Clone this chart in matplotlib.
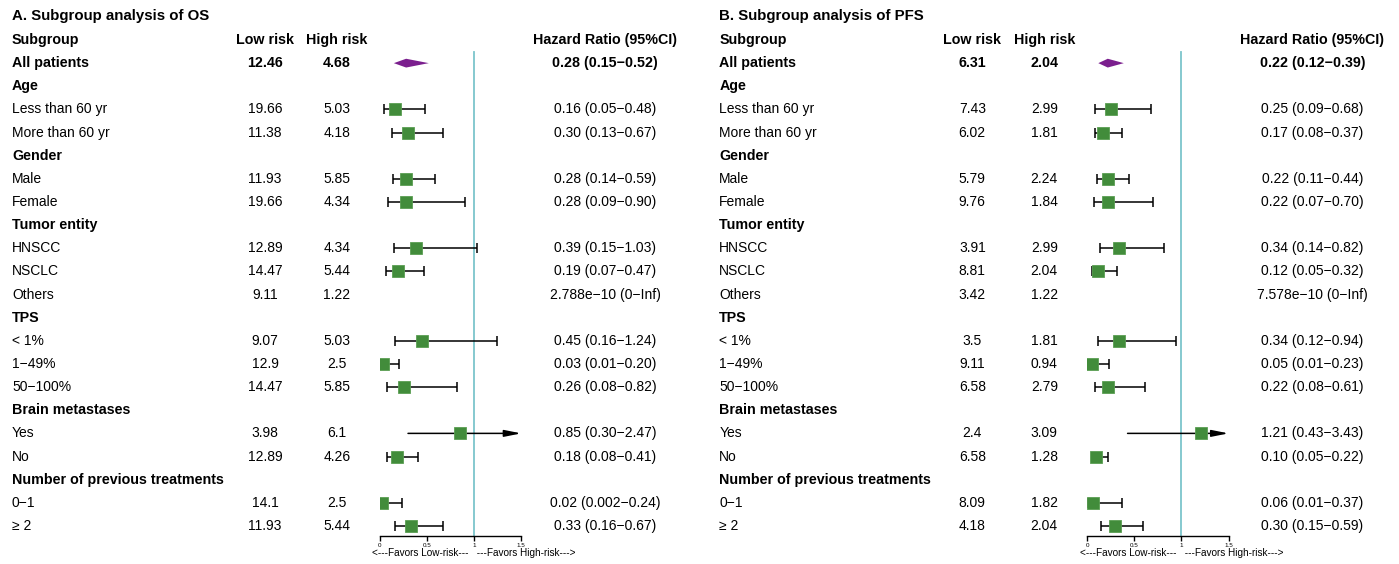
import numpy as np
import matplotlib
matplotlib.use('Agg')
import matplotlib.pyplot as plt
import matplotlib.transforms as mtrans

plt.rcParams['font.family'] = ['Liberation Sans', 'DejaVu Sans']

subgroups = ['All patients', 'Age', 'Less than 60 yr', 'More than 60 yr',
             'Gender', 'Male', 'Female', 'Tumor entity', 'HNSCC', 'NSCLC',
             'Others', 'TPS', '< 1%', '1\u221249%', '50\u2212100%',
             'Brain metastases', 'Yes', 'No',
             'Number of previous treatments', '0\u22121', '\u2265 2']
is_heading = [True, True, False, False, True, False, False, True, False, False,
              False, True, False, False, False, True, False, False, True,
              False, False]

# OS
os_low = ['12.46', '', '19.66', '11.38', '', '11.93', '19.66', '', '12.89',
          '14.47', '9.11', '', '9.07', '12.9', '14.47', '', '3.98', '12.89',
          '', '14.1', '11.93']
os_high = ['4.68', '', '5.03', '4.18', '', '5.85', '4.34', '', '4.34', '5.44',
           '1.22', '', '5.03', '2.5', '5.85', '', '6.1', '4.26', '', '2.5',
           '5.44']
os_hr = [0.28, None, 0.16, 0.30, None, 0.28, 0.28, None, 0.39, 0.19, None,
         None, 0.45, 0.03, 0.26, None, 0.85, 0.18, None, 0.02, 0.33]
os_lo = [0.15, None, 0.05, 0.13, None, 0.14, 0.09, None, 0.15, 0.07, None,
         None, 0.16, 0.01, 0.08, None, 0.30, 0.08, None, 0.002, 0.16]
os_hi = [0.52, None, 0.48, 0.67, None, 0.59, 0.90, None, 1.03, 0.47, None,
         None, 1.24, 0.20, 0.82, None, 2.47, 0.41, None, 0.24, 0.67]
os_text = ['0.28 (0.15\u22120.52)', '', '0.16 (0.05\u22120.48)',
           '0.30 (0.13\u22120.67)', '', '0.28 (0.14\u22120.59)',
           '0.28 (0.09\u22120.90)', '', '0.39 (0.15\u22121.03)',
           '0.19 (0.07\u22120.47)', '2.788e\u221210 (0\u2212Inf)', '',
           '0.45 (0.16\u22121.24)', '0.03 (0.01\u22120.20)',
           '0.26 (0.08\u22120.82)', '', '0.85 (0.30\u22122.47)',
           '0.18 (0.08\u22120.41)', '', '0.02 (0.002\u22120.24)',
           '0.33 (0.16\u22120.67)']

# PFS
pfs_low = ['6.31', '', '7.43', '6.02', '', '5.79', '9.76', '', '3.91', '8.81',
           '3.42', '', '3.5', '9.11', '6.58', '', '2.4', '6.58', '', '8.09',
           '4.18']
pfs_high = ['2.04', '', '2.99', '1.81', '', '2.24', '1.84', '', '2.99', '2.04',
            '1.22', '', '1.81', '0.94', '2.79', '', '3.09', '1.28', '', '1.82',
            '2.04']
pfs_hr = [0.22, None, 0.25, 0.17, None, 0.22, 0.22, None, 0.34, 0.12, None,
          None, 0.34, 0.05, 0.22, None, 1.21, 0.10, None, 0.06, 0.30]
pfs_lo = [0.12, None, 0.09, 0.08, None, 0.11, 0.07, None, 0.14, 0.05, None,
          None, 0.12, 0.01, 0.08, None, 0.43, 0.05, None, 0.01, 0.15]
pfs_hi = [0.39, None, 0.68, 0.37, None, 0.44, 0.70, None, 0.82, 0.32, None,
          None, 0.94, 0.23, 0.61, None, 3.43, 0.22, None, 0.37, 0.59]
pfs_text = ['0.22 (0.12\u22120.39)', '', '0.25 (0.09\u22120.68)',
            '0.17 (0.08\u22120.37)', '', '0.22 (0.11\u22120.44)',
            '0.22 (0.07\u22120.70)', '', '0.34 (0.14\u22120.82)',
            '0.12 (0.05\u22120.32)', '7.578e\u221210 (0\u2212Inf)', '',
            '0.34 (0.12\u22120.94)', '0.05 (0.01\u22120.23)',
            '0.22 (0.08\u22120.61)', '', '1.21 (0.43\u22123.43)',
            '0.10 (0.05\u22120.22)', '', '0.06 (0.01\u22120.37)',
            '0.30 (0.15\u22120.59)']

W, H = 1399, 564
GREEN = '#428c3b'
PURPLE = '#7b1f8e'
TEAL = '#7cc5cb'
XMAX = 1.5


def draw_panel(fig, x0, title, low, high, hr, lo, hi, text):
    # forest area: x=0 at x0 px, x=1.5 at x0+141.5 px
    row_h = 23.14
    top = 40.0
    ax = fig.add_axes([x0 / W, 0, 141.5 / W, 1])
    ax.set_xlim(0, XMAX)
    ax.set_ylim((H - top) / row_h, -top / row_h)
    ax.patch.set_visible(False)
    for s in ['top', 'left', 'right']:
        ax.spines[s].set_visible(False)
    ax.spines['bottom'].set_position(('data', 21.45))
    ax.spines['bottom'].set_bounds(0, XMAX)
    ax.spines['bottom'].set_linewidth(1.0)
    ax.set_yticks([])
    ax.set_xticks([0, 0.5, 1, 1.5])
    ax.set_xticklabels(['0', '0.5', '1', '1.5'])
    ax.tick_params(axis='x', direction='out', length=3.5, width=1.0, pad=1.5,
                   labelsize=4.5)

    ax.plot([1, 1], [0.5, 21.45], color=TEAL, lw=1.3, zorder=1)

    tr = mtrans.blended_transform_factory(fig.transFigure, ax.transData)
    dx = x0 - 379.7
    col_sub = (12 + dx) / W
    col_low = (265 + dx) / W
    col_high = (337 + dx) / W
    col_hr = (605 + dx) / W

    ax.text(col_sub, -1.05, title, transform=tr, ha='left', va='center',
            fontsize=10.8, fontweight='bold')
    for xc, lab, ha in [(col_sub, 'Subgroup', 'left'), (col_low, 'Low risk', 'center'),
                        (col_high, 'High risk', 'center'),
                        (col_hr, 'Hazard Ratio (95%CI)', 'center')]:
        ax.text(xc, 0, lab, transform=tr, ha=ha, va='center', fontsize=10.3,
                fontweight='bold')

    for i, name in enumerate(subgroups):
        y = i + 1
        bold = (i == 0)
        fw = 'bold' if is_heading[i] else 'normal'
        fs = 10.3 if is_heading[i] else 10
        ax.text(col_sub, y, name, transform=tr, ha='left', va='center',
                fontsize=fs, fontweight=fw)
        vfw = 'bold' if bold else 'normal'
        vfs = 10.3 if bold else 10
        ax.text(col_low, y, low[i], transform=tr, ha='center', va='center',
                fontsize=vfs, fontweight=vfw)
        ax.text(col_high, y, high[i], transform=tr, ha='center', va='center',
                fontsize=vfs, fontweight=vfw)
        ax.text(col_hr, y, text[i], transform=tr, ha='center', va='center',
                fontsize=vfs, fontweight=vfw)

        if hr[i] is None:
            continue
        if i == 0:
            ax.fill([lo[i], hr[i], hi[i], hr[i]], [y, y - 0.19, y, y + 0.19],
                    color=PURPLE, lw=0, zorder=3)
            continue
        if hi[i] > XMAX:
            ax.annotate('', xy=(XMAX, y), xytext=(lo[i], y),
                        arrowprops=dict(arrowstyle='-|>,head_length=1.0,head_width=0.2',
                                        color='black', lw=1.1, shrinkA=0, shrinkB=0),
                        zorder=2)
        else:
            ax.errorbar([hr[i]], [y], xerr=[[hr[i] - lo[i]], [hi[i] - hr[i]]],
                        fmt='none', ecolor='black', elinewidth=1.1, capsize=3.3,
                        capthick=1.1, zorder=2)
        ax.plot([hr[i]], [y], marker='s', ms=8.3, color=GREEN,
                mec='#5a9e52', mew=0.6, zorder=4)

    ax.text(1, 22.15, '<---Favors Low-risk---   ---Favors High-risk--->',
            ha='center', va='center', fontsize=7.2)


fig = plt.figure(figsize=(W / 100, H / 100), dpi=100)
draw_panel(fig, 379.7, 'A. Subgroup analysis of OS', os_low, os_high,
           os_hr, os_lo, os_hi, os_text)
draw_panel(fig, 1087.0, 'B. Subgroup analysis of PFS', pfs_low, pfs_high,
           pfs_hr, pfs_lo, pfs_hi, pfs_text)
fig.savefig('out.png', dpi=100, facecolor='white')
